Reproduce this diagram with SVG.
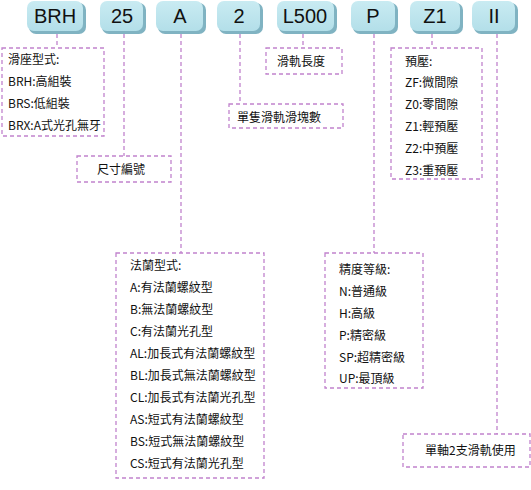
<svg xmlns="http://www.w3.org/2000/svg" width="531" height="490" viewBox="0 0 531 490">
<defs>
<linearGradient id="bg" x1="0" y1="0" x2="0" y2="1">
<stop offset="0" stop-color="#c9ebf2"/>
<stop offset="1" stop-color="#b3dfe9"/>
</linearGradient>
</defs>
<style>
.sh{fill:#80b3c2}
.bt{fill:url(#bg)}
.bl{font-family:"Liberation Sans",Arial,sans-serif;font-size:20px;fill:#111;text-anchor:middle}
.bx{fill:#fff;stroke:#c183cd;stroke-width:1.3;stroke-dasharray:4 3}
.ln{fill:none;stroke:#c183cd;stroke-width:1.3;stroke-dasharray:4 3}
.t{font-family:"Noto Sans CJK TC","Noto Sans",sans-serif;font-size:12px;fill:#111}
.c{text-anchor:middle}
</style>
<rect width="531" height="490" fill="#fff"/>
<g id="connectors">
<path class="ln" d="M57 34V48"/>
<path class="ln" d="M124 34V156"/>
<path class="ln" d="M181 34V253"/>
<path class="ln" d="M240 34V104"/>
<path class="ln" d="M303 34V48"/>
<path class="ln" d="M374 34V253"/>
<path class="ln" d="M432 34V48"/>
<path class="ln" d="M497 34V434"/>
</g>
<g id="btn-BRH"><rect class="sh" x="29" y="3" width="57" height="31" rx="7"/><rect class="bt" x="27" y="1" width="56" height="30" rx="7"/><text class="bl" x="55" y="23">BRH</text></g>
<g id="btn-25"><rect class="sh" x="102" y="3" width="44" height="31" rx="7"/><rect class="bt" x="100" y="1" width="43" height="30" rx="7"/><text class="bl" x="122" y="23">25</text></g>
<g id="btn-A"><rect class="sh" x="158" y="3" width="48" height="31" rx="7"/><rect class="bt" x="156" y="1" width="47" height="30" rx="7"/><text class="bl" x="180" y="23">A</text></g>
<g id="btn-2"><rect class="sh" x="219" y="3" width="44" height="31" rx="7"/><rect class="bt" x="217" y="1" width="43" height="30" rx="7"/><text class="bl" x="239" y="23">2</text></g>
<g id="btn-L500"><rect class="sh" x="279" y="3" width="58" height="31" rx="7"/><rect class="bt" x="277" y="1" width="57" height="30" rx="7"/><text class="bl" x="305" y="23">L500</text></g>
<g id="btn-P"><rect class="sh" x="353" y="3" width="45" height="31" rx="7"/><rect class="bt" x="351" y="1" width="44" height="30" rx="7"/><text class="bl" x="373" y="23">P</text></g>
<g id="btn-Z1"><rect class="sh" x="412" y="3" width="51" height="31" rx="7"/><rect class="bt" x="410" y="1" width="50" height="30" rx="7"/><text class="bl" x="435" y="23">Z1</text></g>
<g id="btn-II"><rect class="sh" x="474" y="3" width="44" height="31" rx="7"/><rect class="bt" x="472" y="1" width="43" height="30" rx="7"/><text class="bl" x="494" y="23">II</text></g>

<g id="box-slide"><rect class="bx" x="2" y="48" width="102" height="88"/>
<text class="t" x="8" y="64">滑座型式:</text>
<text class="t" x="8" y="86">BRH:高組裝</text>
<text class="t" x="8" y="108">BRS:低組裝</text>
<text class="t" x="8" y="130">BRX:A式光孔無牙</text></g>

<g id="box-size"><rect class="bx" x="77" y="156" width="94" height="26"/>
<text class="t c" x="121" y="174">尺寸編號</text></g>

<g id="box-flange"><rect class="bx" x="116" y="253" width="148" height="225"/>
<text class="t" x="130" y="270">法蘭型式:</text>
<text class="t" x="130" y="292">A:有法蘭螺紋型</text>
<text class="t" x="130" y="314">B:無法蘭螺紋型</text>
<text class="t" x="130" y="336">C:有法蘭光孔型</text>
<text class="t" x="130" y="358">AL:加長式有法蘭螺紋型</text>
<text class="t" x="130" y="380">BL:加長式無法蘭螺紋型</text>
<text class="t" x="130" y="402">CL:加長式有法蘭光孔型</text>
<text class="t" x="130" y="424">AS:短式有法蘭螺紋型</text>
<text class="t" x="130" y="446">BS:短式無法蘭螺紋型</text>
<text class="t" x="130" y="468">CS:短式有法蘭光孔型</text></g>

<g id="box-blocks"><rect class="bx" x="229" y="104" width="114" height="24"/>
<text class="t" x="237" y="122">單隻滑軌滑塊數</text></g>

<g id="box-length"><rect class="bx" x="266" y="48" width="76" height="26"/>
<text class="t" x="277" y="66">滑軌長度</text></g>

<g id="box-accuracy"><rect class="bx" x="325" y="253" width="98" height="135"/>
<text class="t" x="339" y="274">精度等級:</text>
<text class="t" x="339" y="296">N:普通級</text>
<text class="t" x="339" y="318">H:高級</text>
<text class="t" x="339" y="340">P:精密級</text>
<text class="t" x="339" y="362">SP:超精密級</text>
<text class="t" x="339" y="383">UP:最頂級</text></g>

<g id="box-preload"><rect class="bx" x="391" y="48" width="91" height="131"/>
<text class="t" x="405" y="66">預壓:</text>
<text class="t" x="405" y="87">ZF:微間隙</text>
<text class="t" x="405" y="109">Z0:零間隙</text>
<text class="t" x="405" y="131">Z1:輕預壓</text>
<text class="t" x="405" y="153">Z2:中預壓</text>
<text class="t" x="405" y="175">Z3:重預壓</text></g>

<g id="box-rails"><rect class="bx" x="403" y="434" width="127" height="33"/>
<text class="t" x="425" y="455">單軸2支滑軌使用</text></g>
</svg>
